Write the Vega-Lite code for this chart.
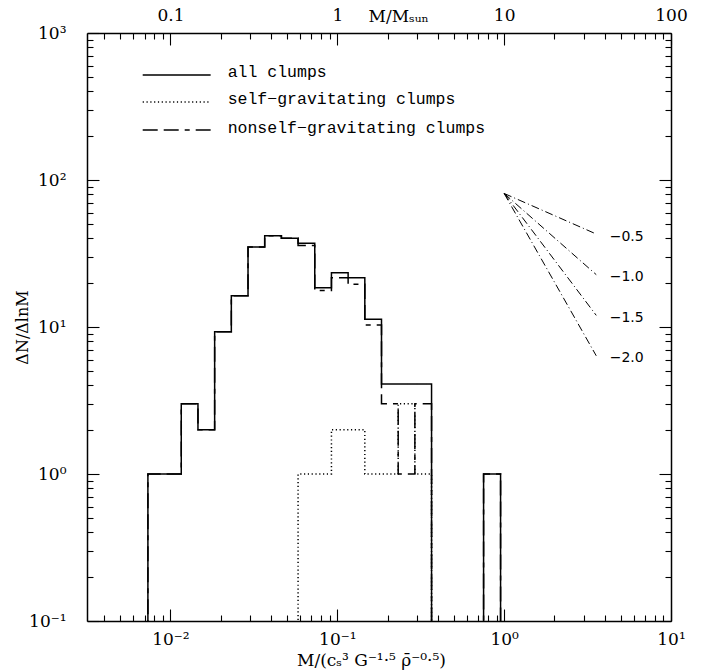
{
  "$schema": "https://vega.github.io/schema/vega-lite/v6.json",
  "width": 584,
  "height": 588,
  "autosize": {"type": "none"},
  "padding": {"left": 87, "top": 33, "right": 34, "bottom": 51},
  "background": "white",
  "config": {
    "view": {"stroke": null},
    "axis": {
      "grid": false,
      "domainColor": "black",
      "domainWidth": 1.5,
      "tickColor": "black",
      "tickWidth": 1.1,
      "labelColor": "black",
      "titleColor": "black",
      "labelFont": "DejaVu Serif",
      "titleFont": "DejaVu Serif",
      "labelFontSize": 16,
      "titleFontSize": 16,
      "titleFontWeight": "normal",
      "labelOverlap": false,
      "labelFlush": false
    }
  },
  "datasets": {
    "hist": [
      {"s": "all", "i": 0, "x": 0.007328, "y": 0.08},
      {"s": "all", "i": 1, "x": 0.007328, "y": 1},
      {"s": "all", "i": 2, "x": 0.011614, "y": 3},
      {"s": "all", "i": 3, "x": 0.014622, "y": 2},
      {"s": "all", "i": 4, "x": 0.018408, "y": 9.3},
      {"s": "all", "i": 5, "x": 0.023174, "y": 16.3},
      {"s": "all", "i": 6, "x": 0.029174, "y": 35},
      {"s": "all", "i": 7, "x": 0.036728, "y": 41.8},
      {"s": "all", "i": 8, "x": 0.046238, "y": 40.1},
      {"s": "all", "i": 9, "x": 0.05821, "y": 37.1},
      {"s": "all", "i": 10, "x": 0.073282, "y": 18.5},
      {"s": "all", "i": 11, "x": 0.092257, "y": 23.4},
      {"s": "all", "i": 12, "x": 0.11614, "y": 21.6},
      {"s": "all", "i": 13, "x": 0.14622, "y": 11.3},
      {"s": "all", "i": 14, "x": 0.18408, "y": 4.1},
      {"s": "all", "i": 15, "x": 0.36728, "y": 0.08},
      {"s": "all", "i": 16, "x": 0.753, "y": 1},
      {"s": "all", "i": 17, "x": 0.952, "y": 0.08},
      {"s": "self", "i": 0, "x": 0.05821, "y": 0.08},
      {"s": "self", "i": 1, "x": 0.05821, "y": 1},
      {"s": "self", "i": 2, "x": 0.092257, "y": 2},
      {"s": "self", "i": 3, "x": 0.14622, "y": 1},
      {"s": "self", "i": 4, "x": 0.23174, "y": 3},
      {"s": "self", "i": 5, "x": 0.29174, "y": 1},
      {"s": "self", "i": 6, "x": 0.36728, "y": 0.08},
      {"s": "nonself", "i": 0, "x": 0.007328, "y": 0.08},
      {"s": "nonself", "i": 1, "x": 0.007328, "y": 1},
      {"s": "nonself", "i": 2, "x": 0.011614, "y": 3},
      {"s": "nonself", "i": 3, "x": 0.014622, "y": 2},
      {"s": "nonself", "i": 4, "x": 0.018408, "y": 9.3},
      {"s": "nonself", "i": 5, "x": 0.023174, "y": 16.3},
      {"s": "nonself", "i": 6, "x": 0.029174, "y": 35},
      {"s": "nonself", "i": 7, "x": 0.036728, "y": 41.8},
      {"s": "nonself", "i": 8, "x": 0.046238, "y": 40.1},
      {"s": "nonself", "i": 9, "x": 0.05821, "y": 35.9},
      {"s": "nonself", "i": 10, "x": 0.073282, "y": 17.7},
      {"s": "nonself", "i": 11, "x": 0.092257, "y": 21.6},
      {"s": "nonself", "i": 12, "x": 0.11614, "y": 19.5},
      {"s": "nonself", "i": 13, "x": 0.14622, "y": 10.3},
      {"s": "nonself", "i": 14, "x": 0.18408, "y": 3},
      {"s": "nonself", "i": 15, "x": 0.23174, "y": 1},
      {"s": "nonself", "i": 16, "x": 0.29174, "y": 3},
      {"s": "nonself", "i": 17, "x": 0.36728, "y": 0.08},
      {"s": "nonself", "i": 18, "x": 0.753, "y": 1},
      {"s": "nonself", "i": 19, "x": 0.952, "y": 0.08}
    ],
    "slopes": [
      {"k": "-0.5", "x": 1.0, "y": 81},
      {"k": "-0.5", "x": 3.565, "y": 42.9},
      {"k": "-1.0", "x": 1.0, "y": 81},
      {"k": "-1.0", "x": 3.565, "y": 22.7},
      {"k": "-1.5", "x": 1.0, "y": 81},
      {"k": "-1.5", "x": 3.565, "y": 12.0},
      {"k": "-2.0", "x": 1.0, "y": 81},
      {"k": "-2.0", "x": 3.565, "y": 6.37}
    ],
    "slopeLabels": [
      {"t": "−0.5", "x": 4.29, "y": 40.7},
      {"t": "−1.0", "x": 4.29, "y": 21.8},
      {"t": "−1.5", "x": 4.29, "y": 11.6},
      {"t": "−2.0", "x": 4.29, "y": 6.12}
    ],
    "legend": [
      {"s": "all", "label": "all clumps", "x1": 0.006821, "x2": 0.01742, "y": 518, "tx": 0.02203, "ty": 501.9},
      {"s": "self", "label": "self−gravitating clumps", "x1": 0.006821, "x2": 0.01742, "y": 339.4, "tx": 0.02203, "ty": 326.3},
      {"s": "nonself", "label": "nonself−gravitating clumps", "x1": 0.006821, "x2": 0.01742, "y": 218.9, "tx": 0.02203, "ty": 208.8}
    ]
  },
  "resolve": {"axis": {"x": "independent", "y": "independent"}},
  "layer": [
    {
      "data": {"name": "hist"},
      "mark": {"type": "line", "interpolate": "step-after", "color": "black", "strokeWidth": 1.5, "strokeCap": "butt", "clip": true},
      "encoding": {
        "x": {
          "field": "x", "type": "quantitative",
          "scale": {"type": "log", "domain": [0.0031623, 10], "nice": false, "zero": false},
          "axis": {
            "orient": "bottom",
            "values": [0.01, 0.1, 1, 10],
            "tickSize": -12,
            "labelPadding": 22,
            "labelFontSize": 17,
            "labelExpr": "['10⁻²','10⁻¹','10⁰','10¹'][round(log(datum.value)/LN10)+2]",
            "title": "M/(cₛ³ G⁻¹·⁵ ρ̄⁻⁰·⁵)",
            "titleFontSize": 17,
            "titleX": 284,
            "titleY": 39,
            "titleAlign": "center",
            "titleBaseline": "middle"
          }
        },
        "y": {
          "field": "y", "type": "quantitative",
          "scale": {"type": "log", "domain": [0.1, 1000], "nice": false, "zero": false},
          "axis": {
            "orient": "left",
            "values": [0.1, 1, 10, 100, 1000],
            "tickSize": -12,
            "labelPadding": 33,
            "labelFontSize": 17,
            "labelExpr": "['10⁻¹','10⁰','10¹','10²','10³'][round(log(datum.value)/LN10)+1]",
            "title": "ΔN/ΔlnM",
            "titleFontSize": 16,
            "titleX": -65,
            "titleY": 294,
            "titleAngle": -90,
            "titleAlign": "center",
            "titleBaseline": "middle"
          }
        },
        "strokeDash": {
          "field": "s", "type": "nominal",
          "scale": {"domain": ["all", "self", "nonself"], "range": [[1, 0], [1.2, 2.6], [15, 6, 15, 6, 5, 6]]},
          "legend": null
        },
        "order": {"field": "i", "type": "quantitative"}
      }
    },
    {
      "data": {"name": "slopes"},
      "mark": {"type": "line", "color": "black", "strokeWidth": 1, "strokeDash": [8, 3, 1, 3]},
      "encoding": {
        "x": {
          "field": "x", "type": "quantitative",
          "scale": {"type": "log", "domain": [0.0031623, 10], "nice": false, "zero": false},
          "axis": {
            "orient": "bottom",
            "values": [0.004, 0.005, 0.006, 0.007, 0.008, 0.009, 0.02, 0.03, 0.04, 0.05, 0.06, 0.07, 0.08, 0.09, 0.2, 0.3, 0.4, 0.5, 0.6, 0.7, 0.8, 0.9, 2, 3, 4, 5, 6, 7, 8, 9],
            "tickSize": -6,
            "labels": false,
            "domain": false,
            "title": null
          }
        },
        "y": {
          "field": "y", "type": "quantitative",
          "scale": {"type": "log", "domain": [0.1, 1000], "nice": false, "zero": false},
          "axis": {
            "orient": "left",
            "values": [0.2, 0.3, 0.4, 0.5, 0.6, 0.7, 0.8, 0.9, 2, 3, 4, 5, 6, 7, 8, 9, 20, 30, 40, 50, 60, 70, 80, 90, 200, 300, 400, 500, 600, 700, 800, 900],
            "tickSize": -6,
            "labels": false,
            "domain": false,
            "title": null
          }
        },
        "detail": {"field": "k", "type": "nominal"}
      }
    },
    {
      "data": {"name": "legend"},
      "mark": {"type": "rule", "color": "black", "strokeWidth": 1.5, "strokeCap": "butt"},
      "encoding": {
        "x": {
          "field": "x1", "type": "quantitative",
          "scale": {"type": "log", "domain": [0.0031623, 10], "nice": false, "zero": false},
          "axis": {
            "orient": "top",
            "values": [0.01, 0.1, 1, 10],
            "tickSize": -12,
            "labelPadding": 21,
            "labelFontSize": 17,
            "labelExpr": "['0.1','1','10','100'][round(log(datum.value)/LN10)+2]",
            "title": "M/Mₛᵤₙ",
            "titleFontSize": 17,
            "titleX": 281,
            "titleY": -17,
            "titleAlign": "left",
            "titleBaseline": "middle",
            "titleAngle": 0
          }
        },
        "x2": {"field": "x2"},
        "y": {
          "field": "y", "type": "quantitative",
          "scale": {"type": "log", "domain": [0.1, 1000], "nice": false, "zero": false},
          "axis": {
            "orient": "right",
            "values": [0.1, 1, 10, 100, 1000],
            "tickSize": -12,
            "labels": false,
            "title": null
          }
        },
        "strokeDash": {
          "field": "s", "type": "nominal",
          "scale": {"domain": ["all", "self", "nonself"], "range": [[1, 0], [1.2, 2.6], [15, 6, 15, 6, 5, 6]]},
          "legend": null
        }
      }
    },
    {
      "data": {"name": "slopeLabels"},
      "mark": {"type": "text", "align": "left", "baseline": "middle", "font": "DejaVu Sans", "fontSize": 14, "color": "black"},
      "encoding": {
        "x": {
          "field": "x", "type": "quantitative",
          "scale": {"type": "log", "domain": [0.0031623, 10], "nice": false, "zero": false},
          "axis": {
            "orient": "top",
            "values": [0.004, 0.005, 0.006, 0.007, 0.008, 0.009, 0.02, 0.03, 0.04, 0.05, 0.06, 0.07, 0.08, 0.09, 0.2, 0.3, 0.4, 0.5, 0.6, 0.7, 0.8, 0.9, 2, 3, 4, 5, 6, 7, 8, 9],
            "tickSize": -6,
            "labels": false,
            "domain": false,
            "title": null
          }
        },
        "y": {
          "field": "y", "type": "quantitative",
          "scale": {"type": "log", "domain": [0.1, 1000], "nice": false, "zero": false},
          "axis": {
            "orient": "right",
            "values": [0.2, 0.3, 0.4, 0.5, 0.6, 0.7, 0.8, 0.9, 2, 3, 4, 5, 6, 7, 8, 9, 20, 30, 40, 50, 60, 70, 80, 90, 200, 300, 400, 500, 600, 700, 800, 900],
            "tickSize": -6,
            "labels": false,
            "domain": false,
            "title": null
          }
        },
        "text": {"field": "t"}
      }
    },
    {
      "data": {"name": "legend"},
      "mark": {"type": "text", "align": "left", "baseline": "alphabetic", "font": "Liberation Mono", "fontSize": 16.5, "color": "black"},
      "encoding": {
        "x": {
          "field": "tx", "type": "quantitative",
          "scale": {"type": "log", "domain": [0.0031623, 10], "nice": false, "zero": false},
          "axis": null
        },
        "y": {
          "field": "ty", "type": "quantitative",
          "scale": {"type": "log", "domain": [0.1, 1000], "nice": false, "zero": false},
          "axis": null
        },
        "text": {"field": "label"}
      }
    }
  ]
}
